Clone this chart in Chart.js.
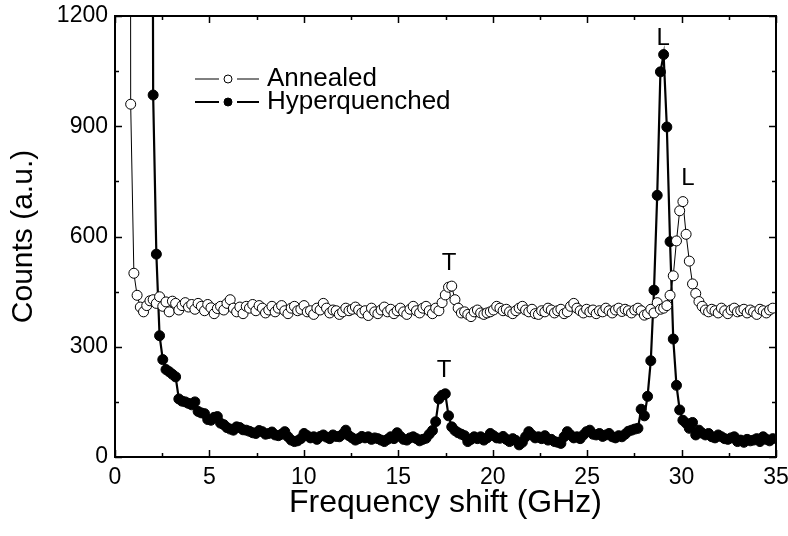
<!DOCTYPE html>
<html lang="en">
<head>
  <meta charset="UTF-8">
  <title>Frequency shift spectra</title>
  <script src="https://cdn.jsdelivr.net/npm/chart.js"></script>
  <style>
    body { margin: 0; background: #fff; }
  </style>
</head>
<body>
  <canvas id="spectrum" width="788" height="536"></canvas>

  <script>
    // frequency axis (GHz), shared by both samples
    const freq = [
      0.66,0.83,1.00,1.17,1.34,1.51,1.68,1.85,2.02,2.19,
      2.36,2.53,2.70,2.87,3.04,3.21,3.38,3.55,3.72,3.89,
      4.06,4.23,4.40,4.57,4.74,4.91,5.08,5.25,5.42,5.59,
      5.76,5.93,6.10,6.27,6.44,6.61,6.78,6.95,7.12,7.29,
      7.46,7.63,7.80,7.97,8.14,8.31,8.48,8.65,8.82,8.99,
      9.16,9.33,9.50,9.67,9.84,10.01,10.18,10.35,10.52,10.69,
      10.86,11.03,11.20,11.37,11.54,11.71,11.88,12.05,12.22,12.39,
      12.56,12.73,12.90,13.07,13.24,13.41,13.58,13.75,13.92,14.09,
      14.26,14.43,14.60,14.77,14.94,15.11,15.28,15.45,15.62,15.79,
      15.96,16.13,16.30,16.47,16.64,16.81,16.98,17.15,17.32,17.49,
      17.66,17.83,18.00,18.17,18.34,18.51,18.68,18.85,19.02,19.19,
      19.36,19.53,19.70,19.87,20.04,20.21,20.38,20.55,20.72,20.89,
      21.06,21.23,21.40,21.57,21.74,21.91,22.08,22.25,22.42,22.59,
      22.76,22.93,23.10,23.27,23.44,23.61,23.78,23.95,24.12,24.29,
      24.46,24.63,24.80,24.97,25.14,25.31,25.48,25.65,25.82,25.99,
      26.16,26.33,26.50,26.67,26.84,27.01,27.18,27.35,27.52,27.69,
      27.86,28.03,28.20,28.37,28.54,28.71,28.88,29.05,29.22,29.39,
      29.56,29.73,29.90,30.07,30.24,30.41,30.58,30.75,30.92,31.09,
      31.26,31.43,31.60,31.77,31.94,32.11,32.28,32.45,32.62,32.79,
      32.96,33.13,33.30,33.47,33.64,33.81,33.98,34.15,34.32,34.49,
      34.66,34.83
    ];

    const annealed = [
      15000,960,500,440,408,395,412,425,428,418,
      436,410,422,395,424,418,400,412,420,408,
      415,402,418,410,398,415,406,390,404,410,
      400,418,428,405,395,408,390,410,405,415,
      398,412,405,392,400,410,395,405,412,398,
      390,405,410,398,402,412,395,398,388,405,
      400,418,405,392,400,398,388,395,405,398,
      402,408,400,392,398,385,405,395,390,400,
      408,395,402,390,398,405,395,388,402,410,
      398,392,405,410,398,390,405,398,420,441,
      462,465,428,405,392,395,388,382,395,400,
      392,388,392,395,400,410,405,398,402,395,
      390,398,405,410,400,395,402,390,388,398,
      395,405,400,392,398,402,390,395,410,418,
      405,398,392,402,395,400,390,398,395,405,
      398,392,400,405,396,402,398,392,400,405,
      398,386,390,402,392,420,402,405,412,440,
      493,588,670,695,606,533,471,445,423,410,
      400,395,402,398,392,405,398,390,400,405,
      395,398,402,392,400,395,388,402,398,392,
      400,405
    ];

    const hyperquenched = [
      null,null,null,null,null,null,null,5000,985,552,
      330,265,238,232,225,218,158,152,150,146,
      142,150,124,120,118,102,100,108,110,92,
      88,80,76,73,82,80,74,73,70,66,
      64,72,69,62,64,68,60,58,62,69,
      55,46,42,44,50,64,58,52,55,48,
      56,60,54,50,60,56,55,62,73,58,
      52,46,50,56,52,55,48,52,50,46,
      42,48,55,50,66,56,48,46,52,55,
      50,44,48,51,62,72,96,158,168,172,
      112,82,72,66,62,58,42,48,55,50,
      55,46,52,64,58,52,51,56,48,42,
      50,45,33,40,55,69,60,52,55,50,
      58,46,48,42,40,37,55,69,60,52,
      55,50,60,69,73,62,60,64,56,60,
      64,55,52,58,55,62,70,73,76,78,
      130,112,165,262,454,712,1048,1095,898,586,
      321,195,128,100,92,78,94,60,73,65,
      60,64,55,52,60,55,50,48,52,55,
      42,46,40,48,44,46,50,42,55,48,
      44,50
    ];

    // peak labels (transverse / longitudinal modes)
    const peakText = ['T', 'L', 'T', 'L'];
    const peakFreq = [17.69, 30.34, 17.42, 29.02];
    const peakCounts = [528, 759, 237, 1140];

    const FONT = '"Liberation Sans", Arial, sans-serif';

    const toPoints = ys => freq.map((f, i) => ({ x: f, y: ys[i] }));

    // box frame with inward ticks on all four sides
    const framePlugin = {
      id: 'frame',
      afterDatasetsDraw(chart) {
        const { ctx, chartArea: a, scales: { x, y } } = chart;
        ctx.save();
        ctx.strokeStyle = '#000';
        ctx.lineWidth = 2;
        ctx.strokeRect(a.left, a.top, a.right - a.left, a.bottom - a.top);
        ctx.lineWidth = 1.5;
        ctx.beginPath();
        for (let v = 0; v <= 35; v += 2.5) {
          const px = Math.round(x.getPixelForValue(v)) + 0.5;
          const len = v % 5 === 0 ? 7 : 4;
          ctx.moveTo(px, a.bottom); ctx.lineTo(px, a.bottom - len);
          ctx.moveTo(px, a.top); ctx.lineTo(px, a.top + len);
        }
        for (let v = 0; v <= 1200; v += 150) {
          const py = Math.round(y.getPixelForValue(v)) + 0.5;
          const len = v % 300 === 0 ? 7 : 4;
          ctx.moveTo(a.left, py); ctx.lineTo(a.left + len, py);
          ctx.moveTo(a.right, py); ctx.lineTo(a.right - len, py);
        }
        ctx.stroke();
        ctx.restore();
      }
    };

    const peakPlugin = {
      id: 'peaks',
      afterDatasetsDraw(chart) {
        const { ctx, scales: { x, y } } = chart;
        ctx.save();
        ctx.fillStyle = '#000';
        ctx.font = '24px ' + FONT;
        ctx.textAlign = 'center';
        ctx.textBaseline = 'middle';
        peakText.forEach((t, i) => {
          ctx.fillText(t, x.getPixelForValue(peakFreq[i]), y.getPixelForValue(peakCounts[i]));
        });
        ctx.restore();
      }
    };

    // line - marker - line legend like the original figure
    const legendPlugin = {
      id: 'sampleLegend',
      afterDraw(chart) {
        const ctx = chart.ctx;
        ctx.save();
        chart.data.datasets.forEach((ds, i) => {
          const yy = 79 + i * 23;
          ctx.strokeStyle = '#000';
          ctx.lineWidth = ds.borderWidth;
          ctx.beginPath();
          ctx.moveTo(195, yy); ctx.lineTo(219, yy);
          ctx.moveTo(237, yy); ctx.lineTo(259, yy);
          ctx.stroke();
          ctx.beginPath();
          ctx.arc(228, yy, 4, 0, Math.PI * 2);
          ctx.fillStyle = ds.pointBackgroundColor;
          ctx.fill();
          ctx.lineWidth = 1;
          ctx.stroke();
          ctx.fillStyle = '#000';
          ctx.font = '26px ' + FONT;
          ctx.textBaseline = 'middle';
          ctx.fillText(ds.label, 267, yy);
        });
        ctx.restore();
      }
    };

    Chart.defaults.color = '#000';
    Chart.defaults.font.family = FONT;

    new Chart(document.getElementById('spectrum'), {
      type: 'line',
      data: {
        datasets: [
          {
            label: 'Annealed',
            data: toPoints(annealed),
            borderColor: '#000',
            borderWidth: 1,
            pointRadius: 5,
            pointBorderWidth: 1,
            pointBorderColor: '#000',
            pointBackgroundColor: '#fff',
            tension: 0
          },
          {
            label: 'Hyperquenched',
            data: toPoints(hyperquenched),
            borderColor: '#000',
            borderWidth: 2.2,
            pointRadius: 5,
            pointBorderWidth: 1,
            pointBorderColor: '#000',
            pointBackgroundColor: '#000',
            tension: 0
          }
        ]
      },
      options: {
        responsive: false,
        animation: false,
        devicePixelRatio: 1,
        layout: { padding: { top: 16, right: 12, left: 0, bottom: 0 } },
        plugins: { legend: { display: false }, tooltip: { enabled: false } },
        scales: {
          x: {
            type: 'linear',
            min: 0,
            max: 35,
            border: { display: false },
            grid: { display: false, drawTicks: false },
            ticks: {
              stepSize: 5, autoSkip: false, maxRotation: 0, padding: 7,
              font: { size: 23 },
              callback: v => String(v)
            },
            title: { display: true, text: 'Frequency shift (GHz)', font: { size: 32 }, padding: { top: 0, bottom: 14 } },
            afterFit(scale) {
              scale.height = 79;
              scale.paddingLeft = 0;
              scale.paddingRight = 0;
            }
          },
          y: {
            min: 0,
            max: 1200,
            border: { display: false },
            grid: { display: false, drawTicks: false },
            ticks: {
              stepSize: 300, autoSkip: false, padding: 7,
              font: { size: 23 },
              callback: v => String(v)
            },
            title: { display: true, text: 'Counts (a.u.)', font: { size: 30 }, padding: { top: 6, bottom: 0 } },
            afterFit(scale) {
              scale.width = 115;
              scale.paddingTop = 0;
              scale.paddingBottom = 0;
            }
          }
        }
      },
      plugins: [framePlugin, peakPlugin, legendPlugin]
    });
  </script>
</body>
</html>
